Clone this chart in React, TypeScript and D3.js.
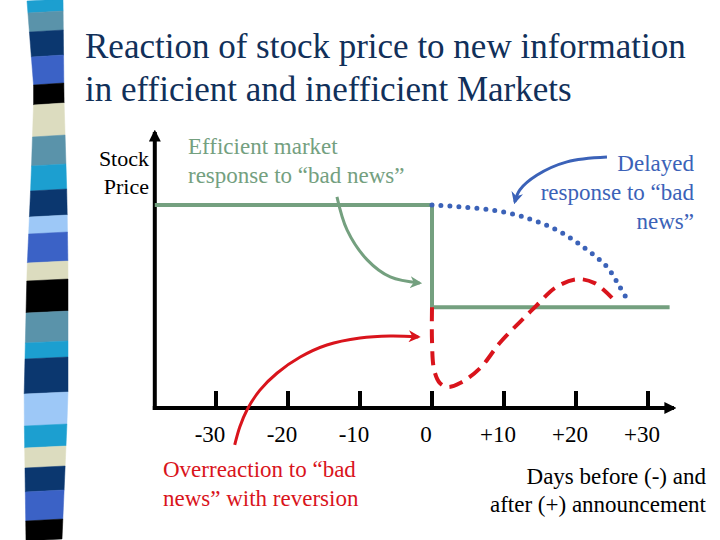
import React from "react";
import * as d3 from "d3";

const W = 720;
const H = 540;

// Tick labels (days relative to announcement)
const tickValues = [-30, -20, -10, 0, 10, 20, 30];
const tickLabels = ["-30", "-20", "-10", "0", "+10", "+20", "+30"];

// Series: [day, price]
const efficient: [number, number][] = [[-38.5, 72.5], [0, 72.5], [0, 36], [33, 36]];
const delayed: [number, number][] = [[0, 72.5], [10, 70], [17, 64], [21, 57.5], [24.3, 50.4], [26.1, 43.2], [27.4, 37.5]];
const overreaction: [number, number][] = [[0, 36], [0, 24], [0.3, 13.6], [1.1, 8.9], [2.2, 7.5], [3.9, 8.9], [6.7, 14.3], [9.4, 23.2], [12.2, 30.7], [14.6, 36.8], [17.1, 42.9], [20.1, 46], [22.6, 44.6], [25, 39.3]];

// Annotation arrows in data units
const greenArrow: [number, number][] = [[-13.2, 75.4], [-11.8, 63.6], [-9.0, 52.9], [-5.8, 46.8], [-1.7, 44.6]];
const redArrow: [number, number][] = [[-27.4, -13.2], [-26.7, -6.8], [-25.7, -0.7], [-23.9, 6.4], [-21.5, 12.5], [-18.3, 18.2], [-14.6, 22.5], [-10, 25], [-5.8, 25.7], [-1.9, 25.4]];
const blueArrow: [number, number][] = [[24.3, 89.6], [18.75, 87.9], [14.6, 83.2], [12.2, 77.9], [11.5, 73.6]];

// Decorative stripe colours (top to bottom) with their start rows
const stripeColors = ["#1c9fd0", "#5a93aa", "#0b376f", "#3b62c6", "#000000", "#dcdcbf", "#5a93aa", "#1c9fd0", "#0b376f", "#9dc8f7", "#3b62c6", "#dcdcbf", "#000000", "#5a93aa", "#1c9fd0", "#0b376f", "#9dc8f7", "#1c9fd0", "#dcdcbf", "#0b376f", "#3b62c6", "#000000"];
const stripeStarts = [0, 12, 31, 56, 84, 104, 136, 165, 190, 216, 233, 262, 280, 312, 342, 358, 393, 425, 447, 467, 491, 520];

const GREEN = "#74a07f";
const BLUE = "#3b62b8";
const RED = "#d9141c";
const NAVY = "#11305a";
const FONT = "Liberation Serif";

export default function App() {
  const x = d3.scaleLinear().domain([-30, 30]).range([216, 648]);
  const y = d3.scaleLinear().domain([0, 100]).range([408, 128]);

  const lineLinear = d3.line<[number, number]>().x(d => x(d[0])).y(d => y(d[1]));
  const lineCurve = d3.line<[number, number]>().x(d => x(d[0])).y(d => y(d[1])).curve(d3.curveCatmullRom.alpha(0.5));

  const leftEdge = d3.scaleLinear().domain([0, 90, 180, 270, 400, 540]).range([27, 34, 31, 27, 24, 26]);
  const rightEdge = d3.scaleLinear().domain([0, 100, 200, 270, 400, 540]).range([63, 64, 67, 68, 68, 62]);

  const axisX0 = x(-38.5);
  const axisY0 = y(0);
  const ts = { fontFamily: FONT };

  return (
    <div style={{ position: "fixed", left: 0, top: 0 }}>
      <svg width={W} height={H} style={{ display: "block", background: "#fff", fontFamily: FONT }}>
        <defs>
          <marker id="ahBlack" viewBox="0 0 10 10" refX="8" refY="5" markerWidth="3" markerHeight="3" orient="auto">
            <path d="M0,0 L10,5 L0,10 z" fill="#000" />
          </marker>
          <marker id="ahGreen" viewBox="0 0 10 10" refX="8" refY="5" markerWidth="4" markerHeight="4" orient="auto">
            <path d="M0,0 L10,5 L0,10 L3,5 z" fill={GREEN} />
          </marker>
          <marker id="ahRed" viewBox="0 0 10 10" refX="8" refY="5" markerWidth="4" markerHeight="4" orient="auto">
            <path d="M0,0 L10,5 L0,10 L3,5 z" fill={RED} />
          </marker>
          <marker id="ahBlue" viewBox="0 0 10 10" refX="8" refY="5" markerWidth="4" markerHeight="4" orient="auto">
            <path d="M0,0 L10,5 L0,10 L3,5 z" fill={BLUE} />
          </marker>
        </defs>

        {/* decorative stripe */}
        {stripeColors.map((c, i) => {
          const y0 = stripeStarts[i];
          const y1 = i + 1 < stripeStarts.length ? stripeStarts[i + 1] : H;
          const pts = [
            [leftEdge(y0), y0 + 1],
            [rightEdge(y0), y0 - 1],
            [rightEdge(y1), y1 - 1],
            [leftEdge(y1), y1 + 1],
          ];
          return <polygon key={i} points={pts.map(p => p.join(",")).join(" ")} fill={c} stroke={c} strokeWidth={0.5} />;
        })}

        {/* title */}
        <text style={ts} x={85} y={58} fontSize={35} fill={NAVY}>Reaction of stock price to new information</text>
        <text style={ts} x={85} y={101} fontSize={35} fill={NAVY}>in efficient and inefficient Markets</text>

        {/* y label */}
        <text style={ts} x={149} y={166} fontSize={22} textAnchor="end" fill="#000">Stock</text>
        <text style={ts} x={149} y={194} fontSize={22} textAnchor="end" fill="#000">Price</text>

        {/* axes */}
        <line x1={axisX0} y1={axisY0 + 2} x2={axisX0} y2={132} stroke="#000" strokeWidth={4} markerEnd="url(#ahBlack)" />
        <line x1={axisX0 - 2} y1={axisY0} x2={674} y2={axisY0} stroke="#000" strokeWidth={4} markerEnd="url(#ahBlack)" />
        {tickValues.map((v, i) => (
          <g key={v}>
            <line x1={x(v)} x2={x(v)} y1={axisY0} y2={axisY0 - 17} stroke="#000" strokeWidth={4} />
            <text style={ts} x={x(v) - 6} y={442} fontSize={23} textAnchor="middle" fill="#000">{tickLabels[i]}</text>
          </g>
        ))}

        {/* efficient response */}
        <path d={lineLinear(efficient) || ""} fill="none" stroke={GREEN} strokeWidth={4} />

        {/* overreaction */}
        <path d={lineCurve(overreaction) || ""} fill="none" stroke={RED} strokeWidth={4} strokeDasharray="14 8" />

        {/* delayed */}
        <path d={lineCurve(delayed) || ""} fill="none" stroke={BLUE} strokeWidth={5} strokeDasharray="0 9" strokeLinecap="round" />

        {/* annotation arrows */}
        <path d={lineCurve(greenArrow) || ""} fill="none" stroke={GREEN} strokeWidth={3} markerEnd="url(#ahGreen)" />
        <path d={lineCurve(redArrow) || ""} fill="none" stroke={RED} strokeWidth={3} markerEnd="url(#ahRed)" />
        <path d={lineCurve(blueArrow) || ""} fill="none" stroke={BLUE} strokeWidth={3} markerEnd="url(#ahBlue)" />

        {/* annotation texts */}
        <text style={ts} x={188} y={154} fontSize={23} fill={GREEN}>Efficient market</text>
        <text style={ts} x={188} y={183} fontSize={23} fill={GREEN}>response to “bad news”</text>

        <text style={ts} x={694} y={171} fontSize={23} textAnchor="end" fill={BLUE}>Delayed</text>
        <text style={ts} x={694} y={200} fontSize={23} textAnchor="end" fill={BLUE}>response to “bad</text>
        <text style={ts} x={694} y={229} fontSize={23} textAnchor="end" fill={BLUE}>news”</text>

        <text style={ts} x={163} y={477} fontSize={23} fill={RED}>Overreaction to “bad</text>
        <text style={ts} x={163} y={506} fontSize={23} fill={RED}>news” with reversion</text>

        <text style={ts} x={706} y={484} fontSize={23} textAnchor="end" fill="#000">Days before (-) and</text>
        <text style={ts} x={706} y={512} fontSize={23} textAnchor="end" fill="#000">after (+) announcement</text>
      </svg>
    </div>
  );
}
